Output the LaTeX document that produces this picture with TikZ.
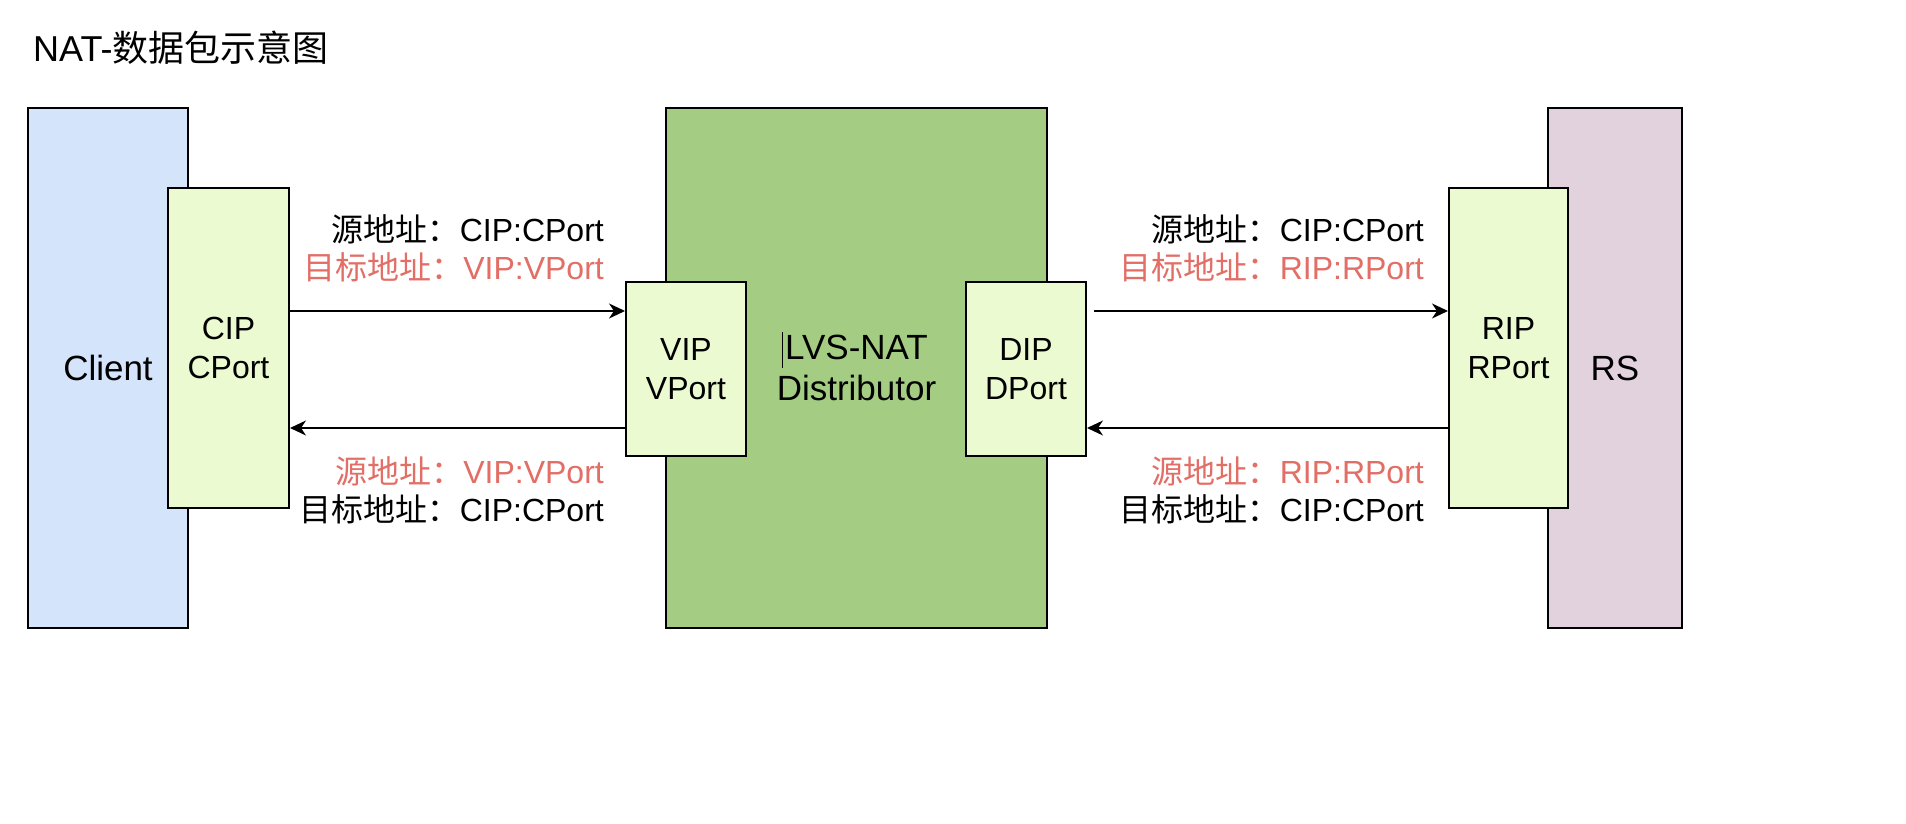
\documentclass[tikz,border=0pt]{standalone}
\usepackage{fontspec}
\setmainfont{Liberation Sans}
\newfontfamily\cjk{Noto Sans CJK SC}
\usetikzlibrary{arrows.meta}
\definecolor{clientfill}{HTML}{D4E5FB}
\definecolor{lvsfill}{HTML}{A4CD83}
\definecolor{portfill}{HTML}{EBFAD0}
\definecolor{rsfill}{HTML}{E1D2DE}
\definecolor{redtxt}{HTML}{E26E66}
\begin{document}
\begin{tikzpicture}[x=1pt,y=-1pt,
  box/.style={draw=black, line width=2pt, inner sep=0pt, align=center},
  big/.style={box, font=\fontsize{35}{41}\selectfont},
  port/.style={box, fill=portfill, font=\fontsize{32}{38.5}\selectfont},
  lbl/.style={inner sep=0pt, anchor=base east, font=\fontsize{32}{38}\selectfont},
  hl/.style={text=redtxt},
  arr/.style={line width=2pt, -{Stealth[length=16pt, width=15pt, inset=5pt]}}]
\useasboundingbox (0,0) rectangle (1906,824);
\fill[white] (0,0) rectangle (1906,824);

\node[inner sep=0pt, anchor=base west, font=\fontsize{36}{42}\selectfont] (title) at (33,62) {NAT-{\cjk 数据包示意图}};

\node[big, fill=clientfill, minimum width=160, minimum height=520] (client) at (108,368) {Client};
\node[port, minimum width=121, minimum height=320] (cip) at (228.5,348) {CIP\\CPort};

\node[big, fill=lvsfill, minimum width=381, minimum height=520] (lvs) at (856.5,368) {LVS-NAT\\Distributor};
\node[port, minimum width=120, minimum height=174] (vip) at (686,369) {VIP\\VPort};
\node[port, minimum width=120, minimum height=174] (dip) at (1026,369) {DIP\\DPort};
\draw[line width=1pt] (782,332) -- (782,368);

\node[big, fill=rsfill, minimum width=134, minimum height=520] (rs) at (1615,368) {RS};
\node[port, minimum width=119, minimum height=320] (rip) at (1508.5,348) {RIP\\RPort};

\coordinate (ya) at (0,311);
\coordinate (yb) at (0,428);
\draw[arr] (cip.east |- ya) -- (vip.west |- ya);
\draw[arr] (vip.west |- yb) -- (cip.east |- yb);
\draw[arr] ([xshift=7pt]dip.east |- ya) -- (rip.west |- ya);
\draw[arr] (rip.west |- yb) -- (dip.east |- yb);

\node[lbl] (ls1) at (604,241) {{\cjk 源地址：}CIP:CPort};
\node[lbl, hl] (ld1) at (604,279) {{\cjk 目标地址：}VIP:VPort};
\node[lbl, hl] (ls2) at (604,483) {{\cjk 源地址：}VIP:VPort};
\node[lbl] (ld2) at (604,521) {{\cjk 目标地址：}CIP:CPort};

\node[lbl] (rs1) at (1424,241) {{\cjk 源地址：}CIP:CPort};
\node[lbl, hl] (rd1) at (1424,279) {{\cjk 目标地址：}RIP:RPort};
\node[lbl, hl] (rs2) at (1424,483) {{\cjk 源地址：}RIP:RPort};
\node[lbl] (rd2) at (1424,521) {{\cjk 目标地址：}CIP:CPort};
\end{tikzpicture}
\end{document}
